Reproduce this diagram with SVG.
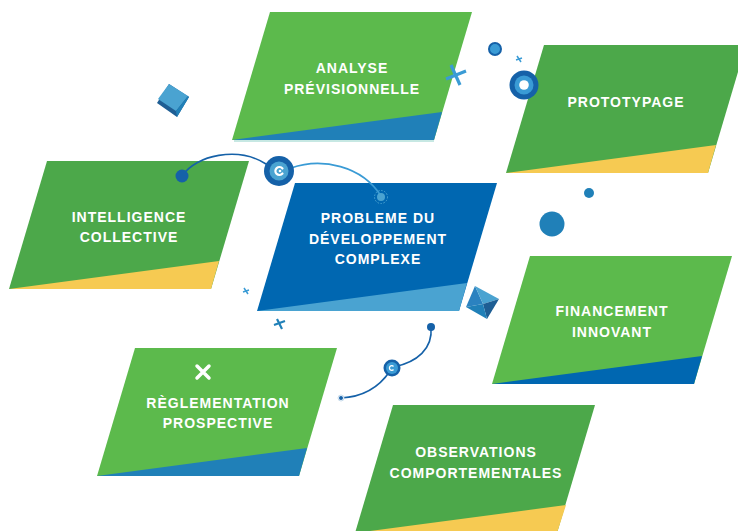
<svg xmlns="http://www.w3.org/2000/svg" width="738" height="531" viewBox="0 0 738 531">
<defs>
<style>
.lg{fill:#5cba4c}
.dg{fill:#4ca84a}
.yl{fill:#f6ca52}
.bl{fill:#2080b8}
.db{fill:#0067b1}
.lb{fill:#4aa3d1}
.t{fill:#ffffff;font-family:"Liberation Sans",Arial,sans-serif;font-weight:bold;font-size:14px;letter-spacing:1px;text-anchor:middle}
.con{fill:none;stroke-width:1.6;stroke-linecap:round}
</style>
<path id="para" d="M38,0 H240 L202,128 H0 Z"/>
<path id="tri" d="M0,128 L210,100 L202,128 Z"/>
</defs>
<rect width="738" height="531" fill="#ffffff"/>

<g id="node-analyse" transform="translate(232,12)">
<line x1="2" y1="129" x2="202" y2="129" stroke="#b5e0da" stroke-width="1.5"/>
<use href="#para" class="lg"/>
<use href="#tri" class="bl"/>
<text class="t" x="120" y="61">ANALYSE</text>
<text class="t" x="120" y="82">PRÉVISIONNELLE</text>
</g>

<g id="node-prototypage" transform="translate(506,45)">
<use href="#para" class="dg"/>
<use href="#tri" class="yl"/>
<text class="t" x="120" y="62">PROTOTYPAGE</text>
</g>

<g id="node-intelligence" transform="translate(9,161)">
<use href="#para" class="dg"/>
<use href="#tri" class="yl"/>
<text class="t" x="120" y="61">INTELLIGENCE</text>
<text class="t" x="120" y="81">COLLECTIVE</text>
</g>

<g id="node-probleme" transform="translate(257,183)">
<use href="#para" class="db"/>
<use href="#tri" class="lb"/>
<text class="t" x="121" y="40">PROBLEME DU</text>
<text class="t" x="121" y="61">DÉVELOPPEMENT</text>
<text class="t" x="121" y="81">COMPLEXE</text>
</g>

<g id="node-financement" transform="translate(492,256)">
<use href="#para" class="lg"/>
<use href="#tri" class="db"/>
<text class="t" x="120" y="60">FINANCEMENT</text>
<text class="t" x="120" y="81">INNOVANT</text>
</g>

<g id="node-reglementation" transform="translate(97,348)">
<use href="#para" class="lg"/>
<use href="#tri" class="bl"/>
<path d="M100,18 L112,30 M112,18 L100,30" stroke="#ffffff" stroke-width="3.5" stroke-linecap="round"/>
<text class="t" x="121" y="60">RÈGLEMENTATION</text>
<text class="t" x="121" y="80">PROSPECTIVE</text>
</g>

<g id="node-observations" transform="translate(355,405)">
<use href="#para" class="dg"/>
<path d="M0,128 L211,100 L202,128 Z" class="yl"/>
<text class="t" x="121" y="52">OBSERVATIONS</text>
<text class="t" x="121" y="73">COMPORTEMENTALES</text>
</g>

<g id="connectors">
<path class="con" d="M182,176 C196,155 238,146 266,164" stroke="#1561a8"/>
<path class="con" d="M291,168 C322,157 362,166 381,196" stroke="#3a9bd5"/>
<path class="con" d="M431,327 C433,349 417,362 394,367" stroke="#1561a8"/>
<path class="con" d="M390,371 C378,389 360,397 341,398" stroke="#1561a8"/>
<circle cx="182" cy="176" r="6.5" fill="#1561a8"/>
<circle cx="381" cy="197" r="6.5" fill="none" stroke="#4aa3d1" stroke-width="1" stroke-dasharray="1.5 1.5"/>
<circle cx="381" cy="197" r="4" fill="#4aa3d1"/>
<circle cx="431" cy="327" r="4" fill="#1561a8"/>
<circle cx="341" cy="398" r="3" fill="#ffffff" stroke="#c9dcec" stroke-width="1"/>
<circle cx="341" cy="398" r="2" fill="#1561a8"/>
</g>

<g id="decorations">
<circle cx="279" cy="171" r="15" fill="#1561a8"/>
<circle cx="279" cy="171" r="9.5" fill="#4aa3d1"/>
<path d="M282.5,168.5 A4,4 0 1 0 282.5,173.5" fill="none" stroke="#ffffff" stroke-width="2.2" stroke-linecap="round"/>
<circle cx="280" cy="171" r="1.3" fill="#ffffff"/>
<circle cx="392" cy="368" r="8.5" fill="#1561a8"/>
<circle cx="392" cy="368" r="6" fill="#3a9bd5"/>
<path d="M393.5,366.5 A2.3,2.3 0 1 0 393.5,369.5" fill="none" stroke="#ffffff" stroke-width="1.3"/>
<polygon points="169,84 189,97 177,117 157,103" fill="#1e5e94"/>
<polygon points="169,84 188,96 176,111 158,99" fill="#4aa3d1"/>
<polygon points="176,111 188,96 189,97 177,117" fill="#2080b8"/>
<polygon points="475,286 483,304 466,307" fill="#2b82c0"/>
<polygon points="475,286 499,299 483,304" fill="#4aa3d1"/>
<polygon points="499,299 487,319 483,304" fill="#1e5e94"/>
<polygon points="466,307 483,304 487,319" fill="#2080b8"/>
<path d="M451,65 L460,85 M446,79 L466,71" stroke="#3a9bd5" stroke-width="3.2" stroke-linecap="butt"/>
<path d="M517,56 L521,62 M516,60 L522,58" stroke="#3a9bd5" stroke-width="1.5"/>
<path d="M244,288 L248,294 M243,292 L249,290" stroke="#3a9bd5" stroke-width="1.5"/>
<path d="M277,319 L282,329 M274,325 L285,321" stroke="#2080b8" stroke-width="2.2"/>
<circle cx="495" cy="49" r="6" fill="#3a9bd5" stroke="#1561a8" stroke-width="2"/>
<circle cx="524" cy="85" r="14.5" fill="#1561a8"/>
<circle cx="524" cy="85" r="9.5" fill="#3a9bd5"/>
<circle cx="524" cy="85" r="4.8" fill="#ffffff"/>
<circle cx="552" cy="224" r="12.5" fill="#2080b8"/>
<circle cx="589" cy="193" r="5" fill="#2080b8"/>
</g>
</svg>
